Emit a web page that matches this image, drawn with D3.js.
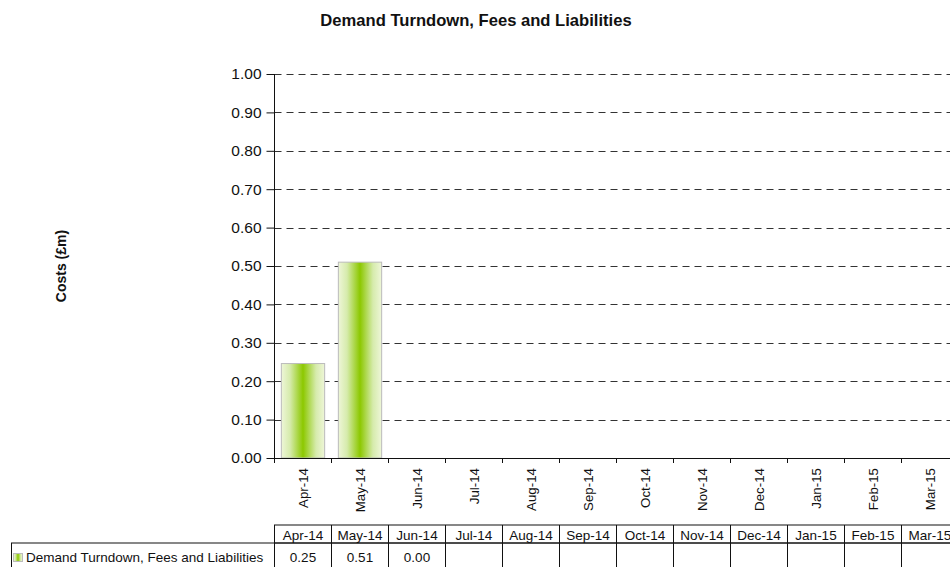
<!DOCTYPE html>
<html><head><meta charset="utf-8">
<script src="https://cdn.jsdelivr.net/npm/d3@7"></script>
<style>body{margin:0;background:#fff}svg{display:block;font-family:"Liberation Sans",Arial,sans-serif}</style>
</head><body>
<svg id="c" width="950" height="567"></svg>
<script>
const categories = ["Apr-14","May-14","Jun-14","Jul-14","Aug-14","Sep-14","Oct-14","Nov-14","Dec-14","Jan-15","Feb-15","Mar-15"];
const seriesName = "Demand Turndown, Fees and Liabilities";
const values = [0.246, 0.51, 0.00, null, null, null, null, null, null, null, null, null];
const tableLabels = ["0.25","0.51","0.00","","","","","","","","",""];
const yTicks = [0,0.1,0.2,0.3,0.4,0.5,0.6,0.7,0.8,0.9,1.0];
const title = "Demand Turndown, Fees and Liabilities";
const yTitle = "Costs (£m)";

const svg = d3.select("#c");
const x0 = 274.5, bw = 57;
const x = d3.scaleBand().domain(categories).range([x0, x0 + bw*categories.length]).paddingInner(0.24).paddingOuter(0.12);
const xb = d3.scaleBand().domain(categories).range([x0, x0 + bw*categories.length]);
const y = d3.scaleLinear().domain([0,1]).range([458, 74]);

const defs = svg.append("defs");
const g = defs.append("linearGradient").attr("id","bg").attr("x1","0").attr("x2","1").attr("y1","0").attr("y2","0");
[[0,"#eef6d8"],[0.2,"#d6ebac"],[0.5,"#8cc800"],[0.8,"#d6ebac"],[1,"#eef6d8"]].forEach(s=>g.append("stop").attr("offset",s[0]).attr("stop-color",s[1]));

svg.append("text").attr("x",476).attr("y",26).attr("text-anchor","middle").attr("font-weight","bold").attr("font-size",16.6).attr("fill","#111").text(title);

// gridlines
svg.append("g").selectAll("line").data(yTicks.filter(d=>d>0)).join("line")
  .attr("x1",x0).attr("x2",950).attr("y1",d=>Math.round(y(d))+0.5).attr("y2",d=>Math.round(y(d))+0.5)
  .attr("stroke","#333").attr("stroke-dasharray","7,5");

// bars
svg.append("g").selectAll("rect").data(categories.map((c,i)=>({c,v:values[i]})).filter(d=>d.v)).join("rect")
  .attr("x",d=>x(d.c)).attr("width",x.bandwidth()).attr("y",d=>y(d.v)).attr("height",d=>y(0)-y(d.v))
  .attr("fill","url(#bg)").attr("stroke","#bbb");

// y axis
const ya = svg.append("g").attr("transform",`translate(${x0},0)`).call(d3.axisLeft(y).tickValues(yTicks).tickFormat(d3.format(".2f")).tickSize(8).tickPadding(5));
ya.selectAll("text").attr("font-size",15.5).attr("fill","#111").attr("font-family","Liberation Sans, Arial");
ya.selectAll("line,path").attr("stroke","#111");
ya.select("path").attr("d",`M0,${y(1)}V${y(0)}`);

// x axis
const xa = svg.append("g").attr("transform",`translate(0,${y(0)})`).call(d3.axisBottom(xb).tickSize(0).tickPadding(0));
xa.select("path").attr("d",`M${x0},0.5H950`).attr("stroke","#111");
xa.selectAll(".tick text").attr("transform","rotate(-90)").attr("text-anchor","end").attr("x",-10).attr("y",0).attr("dy","0.35em").attr("font-size",13.3).attr("fill","#111").attr("font-family","Liberation Sans, Arial");
svg.append("g").selectAll("line").data(d3.range(categories.length+1)).join("line")
  .attr("x1",i=>x0+i*bw).attr("x2",i=>x0+i*bw).attr("y1",y(0)).attr("y2",y(0)+5).attr("stroke","#111");

svg.append("text").attr("transform","translate(66,266) rotate(-90)").attr("text-anchor","middle").attr("font-weight","bold").attr("font-size",14).attr("fill","#111").text(yTitle);

// data table
const t = svg.append("g").attr("font-size",13.5).attr("fill","#111");
const hy0 = 525, hy1 = 543, ry1 = 570;
t.append("rect").attr("x",x0).attr("y",hy0).attr("width",bw*categories.length).attr("height",hy1-hy0).attr("fill","none").attr("stroke","#111");
t.append("rect").attr("x",11.5).attr("y",hy1).attr("width",x0-11.5+bw*categories.length).attr("height",ry1-hy1).attr("fill","none").attr("stroke","#111");
t.selectAll("line.v").data(d3.range(categories.length)).join("line").attr("class","v")
  .attr("x1",i=>x0+i*bw).attr("x2",i=>x0+i*bw).attr("y1",hy0).attr("y2",ry1).attr("stroke","#111");
t.selectAll("text.h").data(categories).join("text").attr("class","h")
  .attr("x",d=>xb(d)+bw/2).attr("y",hy0+15).attr("text-anchor","middle").text(d=>d);
t.selectAll("text.v").data(tableLabels).join("text").attr("class","v")
  .attr("x",(d,i)=>x0+i*bw+bw/2).attr("y",hy1+19).attr("text-anchor","middle").text(d=>d);
t.append("rect").attr("x",13.5).attr("y",hy1+10.5).attr("width",9).attr("height",8).attr("fill","url(#bg)").attr("stroke","#bbb");
t.append("text").attr("x",26).attr("y",hy1+19).text(seriesName);
</script>
</body></html>
